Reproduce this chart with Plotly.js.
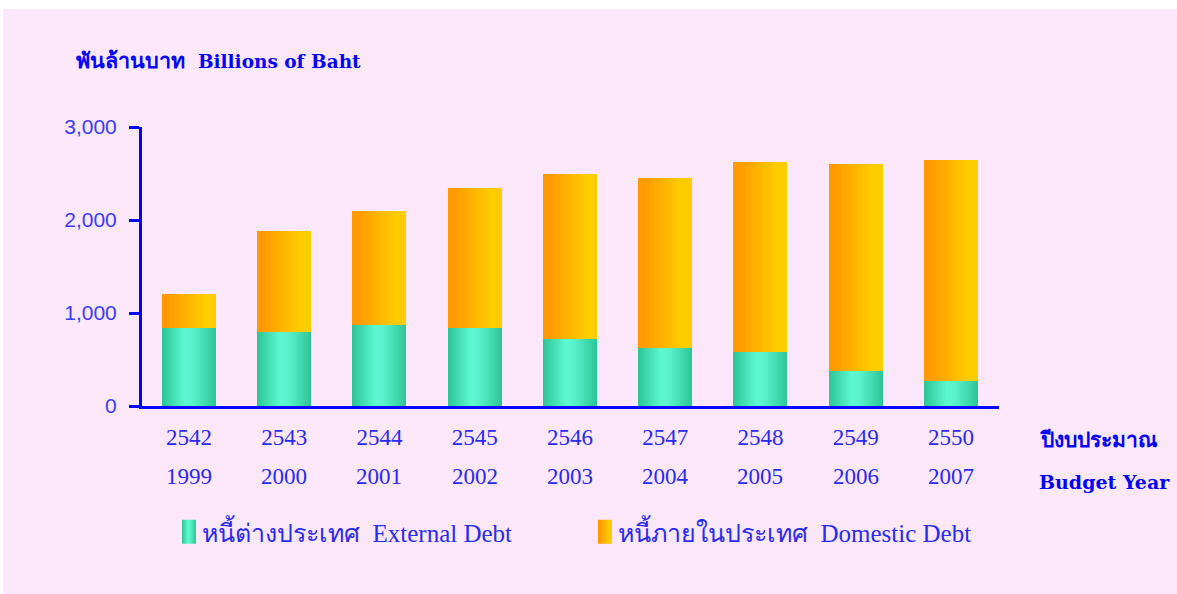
<!DOCTYPE html>
<html>
<head>
<meta charset="utf-8">
<script src="https://cdn.plot.ly/plotly-3.0.1.min.js"></script>
<style>
  html, body { margin: 0; padding: 0; background: #ffffff; }
  #chart { position: absolute; left: 3px; top: 9px; width: 1174px; height: 585px; }
</style>
</head>
<body>
<div id="chart"></div>
<script>
// ---- data ----
const thaiYears = ['2542','2543','2544','2545','2546','2547','2548','2549','2550'];
const gregYears = ['1999','2000','2001','2002','2003','2004','2005','2006','2007'];
const externalDebt = [839, 796, 871, 839, 720, 624, 581, 376, 269];
const domesticDebt = [365, 1086, 1226, 1505, 1775, 1828, 2043, 2226, 2376];
const seriesNames = ['หนี้ต่างประเทศ &nbsp;External Debt', 'หนี้ภายในประเทศ &nbsp;Domestic Debt'];
const yTickVals = [0, 1000, 2000, 3000];
const yTickText = ['0', '1,000', '2,000', '3,000'];

const idx = thaiYears.map((_, i) => i);
const labelFont = {family: 'Liberation Serif, Noto Sans, serif', size: 23, color: '#2a2af0'};
const legendFont = {family: 'Liberation Serif, Noto Sans, serif', size: 25, color: '#2a2af0'};
const boldFont = {family: 'DejaVu Serif, Liberation Serif, serif', size: 18.5, color: '#0000ff'};

const traces = [
  {type: 'bar', name: seriesNames[0], x: idx, y: externalDebt, width: 0.567,
   marker: {color: '#45e0b5', line: {width: 0}}, hoverinfo: 'y'},
  {type: 'bar', name: seriesNames[1], x: idx, y: domesticDebt, width: 0.567,
   marker: {color: '#ffb300', line: {width: 0}}, hoverinfo: 'y'}
];

const annotations = gregYears.map((t, i) => ({
  x: i, xref: 'x', y: 0, yref: 'paper', yshift: -70,
  text: t, showarrow: false, xanchor: 'center', yanchor: 'middle', font: labelFont
}));
annotations.push({x: 1.044, xref: 'paper', y: 0, yref: 'paper', yshift: -34,
  text: '<b>ปีงบประมาณ</b>', showarrow: false, xanchor: 'left', yanchor: 'middle',
  font: {family: 'Liberation Serif, Noto Sans, serif', size: 21, color: '#0000ff'}});
annotations.push({x: 1.044, xref: 'paper', y: 0, yref: 'paper', yshift: -76,
  text: '<b>Budget Year</b>', showarrow: false, xanchor: 'left', yanchor: 'middle',
  font: {family: 'DejaVu Serif, Liberation Serif, serif', size: 19, color: '#0000ff'}});

const layout = {
  width: 1174, height: 585,
  paper_bgcolor: '#fce7fb', plot_bgcolor: '#fce7fb',
  margin: {l: 139, r: 178, t: 118, b: 188, pad: 0},
  barmode: 'stack',
  showlegend: true,
  title: {text: '<b><span style="font-family:Liberation Serif, Noto Sans, serif;font-size:21.5px">พันล้านบาท</span>&nbsp; Billions of Baht</b>',
          x: 73/1174, xanchor: 'left',
          xref: 'container', y: 1 - 53/585, yanchor: 'middle', yref: 'container',
          font: boldFont},
  xaxis: {range: [-0.493, 8.504], tickvals: idx, ticktext: thaiYears, showgrid: false,
          zeroline: false, showline: true, linecolor: '#0000ff', linewidth: 3,
          ticks: '', ticklabelstandoff: 8, tickfont: labelFont, fixedrange: true},
  yaxis: {range: [0, 3000], tickvals: yTickVals, ticktext: yTickText, showgrid: false,
          zeroline: false, showline: true, linecolor: '#0000ff', linewidth: 3,
          ticks: 'outside', ticklen: 10, tickwidth: 3, tickcolor: '#0000ff',
          ticklabelstandoff: 8,
          tickfont: {family: 'Liberation Sans, Arial, sans-serif', size: 21, color: '#3c3cff'},
          fixedrange: true},
  legend: {orientation: 'h', xref: 'container', yref: 'container',
           x: 159/1174, y: 1 - 523/585, xanchor: 'left', yanchor: 'middle',
           bgcolor: 'rgba(0,0,0,0)', traceorder: 'normal',
           entrywidthmode: 'pixels', entrywidth: 371,
           font: legendFont},
  annotations: annotations
};

function applyGradients(gd) {
  const svg = gd.querySelector('.main-svg');
  if (!svg) return;
  if (!svg.querySelector('#gGreen')) {
    const ns = 'http://www.w3.org/2000/svg';
    const defs = document.createElementNS(ns, 'defs');
    defs.innerHTML =
      '<linearGradient id="gGreen" x1="0" y1="0" x2="1" y2="0">' +
        '<stop offset="0" stop-color="#2cc497"/>' +
        '<stop offset="0.42" stop-color="#5ef8d0"/>' +
        '<stop offset="0.58" stop-color="#5af2ca"/>' +
        '<stop offset="1" stop-color="#2cc497"/>' +
      '</linearGradient>' +
      '<linearGradient id="gOrange" x1="0" y1="0" x2="1" y2="0">' +
        '<stop offset="0" stop-color="#ff9900"/>' +
        '<stop offset="0.12" stop-color="#ff9b00"/>' +
        '<stop offset="0.8" stop-color="#ffcc00"/>' +
        '<stop offset="1" stop-color="#ffcc00"/>' +
      '</linearGradient>';
    svg.insertBefore(defs, svg.firstChild);
  }
  const grads = ['url(#gGreen)', 'url(#gOrange)'];
  gd.querySelectorAll('.barlayer .trace').forEach((tr, i) => {
    tr.querySelectorAll('path').forEach(p => { p.style.fill = grads[i % 2]; });
  });
  gd.querySelectorAll('.legend .traces').forEach((tr, i) => {
    tr.querySelectorAll('.legendpoints path').forEach(p => {
      p.setAttribute('d', 'M14,12H0V-12H14Z');
      p.style.fill = grads[i % 2];
      p.style.stroke = 'none';
    });
  });
}

const gd = document.getElementById('chart');
Plotly.newPlot(gd, traces, layout, {displayModeBar: false, responsive: false, staticPlot: true})
  .then(() => { applyGradients(gd); gd.on && gd.on('plotly_afterplot', () => applyGradients(gd)); });
</script>
</body>
</html>
